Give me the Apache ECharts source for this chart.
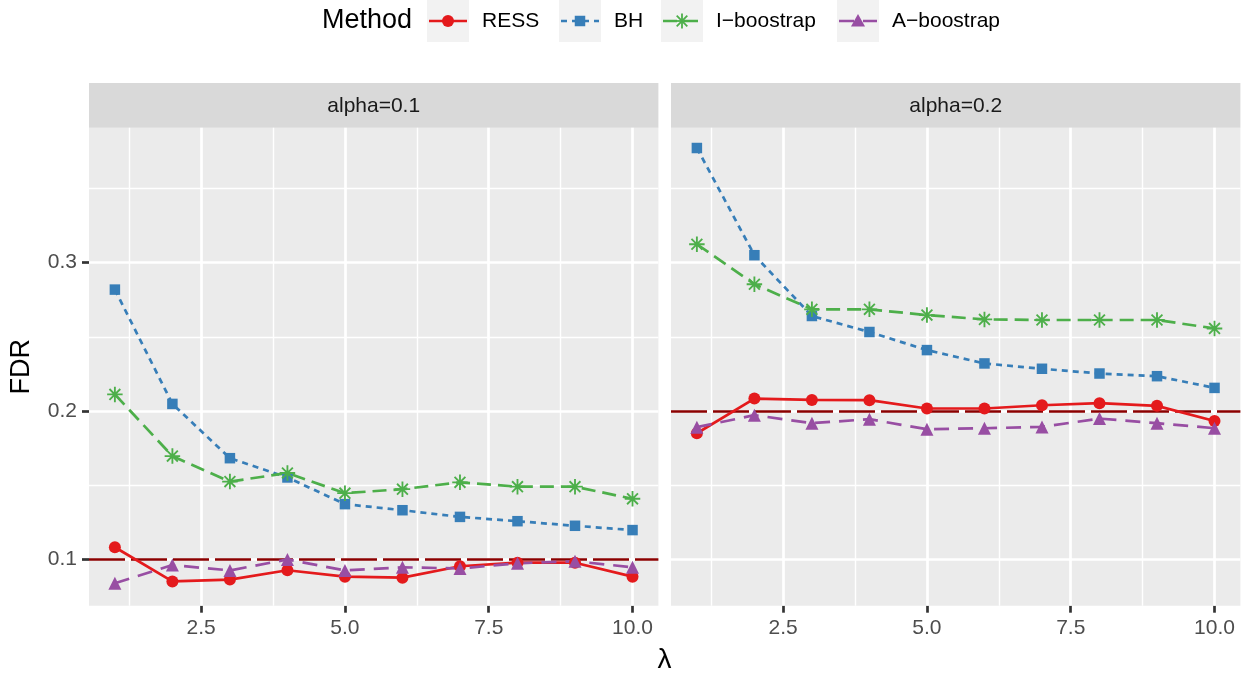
<!DOCTYPE html>
<html><head><meta charset="utf-8">
<script src="https://cdn.jsdelivr.net/npm/echarts@6/dist/echarts.min.js"></script>
<style>html,body{margin:0;padding:0;background:#fff}#c{width:1247px;height:675px}</style>
</head><body><div id="c"></div>
<script>
// ---------- data ----------
const lambda = [1, 2, 3, 4, 5, 6, 7, 8, 9, 10];
const facets = ['alpha=0.1', 'alpha=0.2'];
const alphas = [0.1, 0.2];
const methods = ['RESS', 'BH', 'I\u2212boostrap', 'A\u2212boostrap'];

const ress1  = [0.1080, 0.0850, 0.0862, 0.0925, 0.0882, 0.0875, 0.0952, 0.0976, 0.0976, 0.0882];
const bh1    = [0.2818, 0.2047, 0.1681, 0.1551, 0.1371, 0.1330, 0.1285, 0.1256, 0.1225, 0.1196];
const iboot1 = [0.2111, 0.1695, 0.1523, 0.1581, 0.1445, 0.1472, 0.1518, 0.1489, 0.1489, 0.1407];
const aboot1 = [0.0838, 0.0960, 0.0924, 0.0998, 0.0924, 0.0945, 0.0937, 0.0972, 0.0986, 0.0945];

const ress2  = [0.1849, 0.2083, 0.2074, 0.2072, 0.2016, 0.2016, 0.2038, 0.2052, 0.2034, 0.1932];
const bh2    = [0.3773, 0.3050, 0.2640, 0.2532, 0.2410, 0.2320, 0.2284, 0.2252, 0.2234, 0.2155];
const iboot2 = [0.3124, 0.2854, 0.2685, 0.2685, 0.2646, 0.2617, 0.2613, 0.2613, 0.2613, 0.2556];
const aboot2 = [0.1890, 0.1971, 0.1917, 0.1944, 0.1876, 0.1883, 0.1892, 0.1948, 0.1917, 0.1883];

const yMajor = [0.1, 0.2, 0.3];
const yMinor = [0.15, 0.25, 0.35];
const xMajor = [2.5, 5, 7.5, 10];
const xMinor = [1.25, 3.75, 6.25, 8.75];

// ---------- styles / layout ----------
const FONT = 'Liberation Sans, Arial, Helvetica, sans-serif';
const colors = ['#E41A1C', '#377EB8', '#4DAF4A', '#984EA3'];
const dashes = ['solid', [6, 5], [14, 7], [15, 9]];
const ASTER = 'path://M0 44L100 44L100 56L0 56ZM44 0L56 0L56 100L44 100Z' +
  'M19.24 10.76L89.24 80.76L80.76 89.24L10.76 19.24Z' +
  'M80.76 10.76L89.24 19.24L19.24 89.24L10.76 80.76Z';
const symbols = ['circle', 'rect', ASTER, 'triangle'];
const symSizes = [12, 10.5, 15.5, 13];
const LW = 2.7;

const panels = [{ left: 89, width: 569.4 }, { left: 671, width: 569.4 }];
const TOP = 127.7, HEIGHT = 478;
const STRIP_TOP = 83, STRIP_H = 44.7;
const X_MIN = 0.55, X_MAX = 10.45;
const Y_MIN = 0.0686, Y_MAX = 0.391;

const seriesData = [[ress1, bh1, iboot1, aboot1], [ress2, bh2, iboot2, aboot2]];

const grids = panels.map(p => ({
  left: p.left, top: TOP, width: p.width, height: HEIGHT,
  show: true, backgroundColor: '#EBEBEB', borderWidth: 0, containLabel: false
}));

const xAxes = panels.map((p, i) => ({
  type: 'value', gridIndex: i, min: X_MIN, max: X_MAX,
  axisLine: { show: false },
  splitLine: { show: false },
  axisTick: { show: true, length: 7, customValues: xMajor, lineStyle: { color: '#333333', width: LW } },
  axisLabel: { show: true, customValues: xMajor, formatter: v => v.toFixed(1),
    color: '#4D4D4D', fontSize: 21, fontFamily: FONT, margin: 12 }
}));

const yAxes = panels.map((p, i) => ({
  type: 'value', gridIndex: i, min: Y_MIN, max: Y_MAX,
  axisLine: { show: false },
  splitLine: { show: false },
  axisTick: { show: i === 0, length: 7, customValues: yMajor, lineStyle: { color: '#333333', width: LW } },
  axisLabel: { show: i === 0, customValues: yMajor, formatter: v => v.toFixed(1),
    color: '#4D4D4D', fontSize: 21, fontFamily: FONT, margin: 12 }
}));

const series = [];
panels.forEach((p, f) => {
  // panel grid lines
  const gl = [];
  yMajor.forEach(v => gl.push({ yAxis: v, lineStyle: { color: '#FFFFFF', width: LW, type: 'solid' } }));
  yMinor.forEach(v => gl.push({ yAxis: v, lineStyle: { color: '#FFFFFF', width: 1.4, type: 'solid' } }));
  xMajor.forEach(v => gl.push({ xAxis: v, lineStyle: { color: '#FFFFFF', width: LW, type: 'solid' } }));
  xMinor.forEach(v => gl.push({ xAxis: v, lineStyle: { color: '#FFFFFF', width: 1.4, type: 'solid' } }));
  series.push({
    type: 'line', xAxisIndex: f, yAxisIndex: f, data: [], silent: true, z: 1,
    markLine: { z: 1, silent: true, animation: false, symbol: ['none', 'none'], label: { show: false }, data: gl }
  });
  // threshold line
  series.push({
    type: 'line', xAxisIndex: f, yAxisIndex: f, data: [], silent: true, z: 8,
    markLine: { z: 8, silent: true, animation: false, symbol: ['none', 'none'], label: { show: false },
      data: [{ yAxis: alphas[f], lineStyle: { color: '#8B0000', width: LW, type: [36, 6] } }] }
  });
  methods.forEach((m, k) => {
    series.push({
      name: m, type: 'line', xAxisIndex: f, yAxisIndex: f, z: 10,
      data: lambda.map((x, i) => [x, seriesData[f][k][i]]),
      symbol: symbols[k], symbolSize: symSizes[k], showSymbol: true,
      itemStyle: { color: colors[k], borderWidth: 0 },
      lineStyle: { color: colors[k], width: LW, type: dashes[k] },
      animation: false, silent: true
    });
  });
});

// ---------- graphics: strips, axis titles, legend ----------
const graphic = [];
panels.forEach((p, f) => {
  graphic.push({ type: 'rect', x: p.left, y: STRIP_TOP, shape: { width: p.width, height: STRIP_H },
    style: { fill: '#D9D9D9' }, silent: true });
  graphic.push({ type: 'text', x: p.left + p.width / 2, y: STRIP_TOP + STRIP_H / 2 + 1,
    style: { text: facets[f], fill: '#1A1A1A', fontSize: 21, fontFamily: FONT, align: 'center', verticalAlign: 'middle' } });
});
graphic.push({ type: 'text', x: 22, y: TOP + HEIGHT / 2, rotation: Math.PI / 2,
  style: { text: 'FDR', fill: '#000', fontSize: 27, fontFamily: FONT, align: 'center', verticalAlign: 'middle' } });
graphic.push({ type: 'text', x: 664.5, y: 660,
  style: { text: '\u03BB', fill: '#000', fontSize: 28, fontFamily: FONT, align: 'center', verticalAlign: 'middle' } });

// legend
const LY = 21;
graphic.push({ type: 'text', x: 322, y: LY,
  style: { text: 'Method', fill: '#000', fontSize: 27, fontFamily: FONT, align: 'left', verticalAlign: 'middle' } });
const keyX = [427, 559, 661, 837];
const KS = 42;
methods.forEach((m, k) => {
  const x0 = keyX[k], cx = x0 + KS / 2;
  graphic.push({ type: 'rect', x: x0, y: LY - KS / 2, shape: { width: KS, height: KS }, style: { fill: '#F2F2F2' }, silent: true });
  graphic.push({ type: 'line', shape: { x1: x0 + 2, y1: LY, x2: x0 + KS - 2, y2: LY },
    style: { stroke: colors[k], lineWidth: LW, lineDash: dashes[k] === 'solid' ? null : dashes[k] } });
  let mk;
  if (k === 0) mk = { type: 'circle', shape: { cx: cx, cy: LY, r: 6 }, style: { fill: colors[k] } };
  else if (k === 1) mk = { type: 'rect', shape: { x: cx - 5.25, y: LY - 5.25, width: 10.5, height: 10.5 }, style: { fill: colors[k] } };
  else if (k === 2) {
    const r = 7.5, d = 5.3;
    mk = { type: 'group', children: [
      { type: 'line', shape: { x1: cx - r, y1: LY, x2: cx + r, y2: LY }, style: { stroke: colors[k], lineWidth: 1.8 } },
      { type: 'line', shape: { x1: cx, y1: LY - r, x2: cx, y2: LY + r }, style: { stroke: colors[k], lineWidth: 1.8 } },
      { type: 'line', shape: { x1: cx - d, y1: LY - d, x2: cx + d, y2: LY + d }, style: { stroke: colors[k], lineWidth: 1.8 } },
      { type: 'line', shape: { x1: cx + d, y1: LY - d, x2: cx - d, y2: LY + d }, style: { stroke: colors[k], lineWidth: 1.8 } }
    ] };
  } else mk = { type: 'polygon', shape: { points: [[cx, LY - 7], [cx + 7, LY + 5.5], [cx - 7, LY + 5.5]] }, style: { fill: colors[k] } };
  graphic.push(mk);
  graphic.push({ type: 'text', x: x0 + KS + 13, y: LY,
    style: { text: m, fill: '#000', fontSize: 21, fontFamily: FONT, align: 'left', verticalAlign: 'middle' } });
});

const chart = echarts.init(document.getElementById('c'), null, { renderer: 'canvas' });
chart.setOption({
  animation: false,
  backgroundColor: '#FFFFFF',
  grid: grids,
  xAxis: xAxes,
  yAxis: yAxes,
  series: series,
  graphic: graphic
});
</script>
</body></html>
